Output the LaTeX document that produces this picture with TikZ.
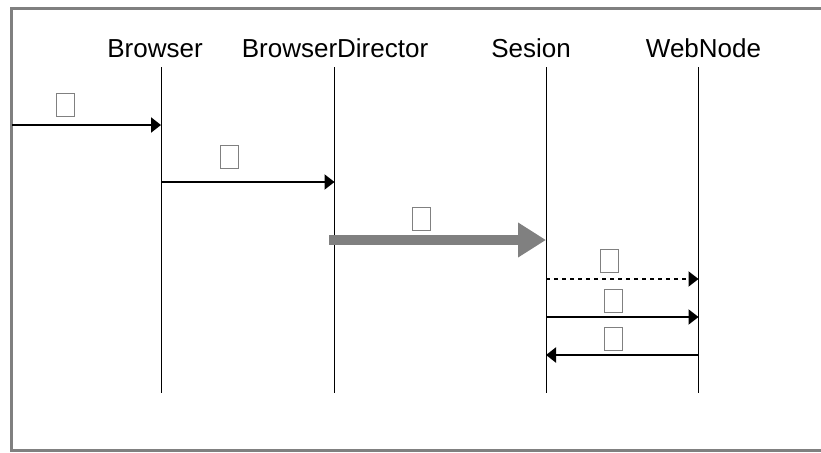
\documentclass[tikz,border=0pt]{standalone}
\usepackage{fontspec}
\setmainfont{Liberation Sans}
\usetikzlibrary{arrows.meta}

\tikzset{
    lifeline/.style={line width=1pt},
    msg/.style={line width=2pt,-{Triangle[length=10pt,width=15pt]}},
    tofu/.style={draw=gray,line width=1pt,minimum width=18pt,minimum height=23pt,inner sep=0pt},
    objname/.style={anchor=base,font=\fontsize{26}{30}\selectfont},
}

\begin{document}
\begin{tikzpicture}[x=1pt,y=-1pt]
    \useasboundingbox (0,0) rectangle (821,452);
    % frame
    \draw[gray,line width=3pt] (11.5,8.5) rectangle (826,450.5);

    % objects
    \node[objname] (Browser) at (155,57) {Browser};
    \node[objname] (Director) at (335,57) {BrowserDirector};
    \node[objname] (Sesion) at (531,57) {Sesion};
    \node[objname] (WebNode) at (703.5,57) {WebNode};

    % lifelines
    \coordinate (BrowserTop) at (161,67);
    \coordinate (BrowserEnd) at (161,393);
    \coordinate (DirectorTop) at (334.5,67);
    \coordinate (DirectorEnd) at (334.5,393);
    \coordinate (SesionTop) at (546,67);
    \coordinate (SesionEnd) at (546,393);
    \coordinate (WebNodeTop) at (698.5,67);
    \coordinate (WebNodeEnd) at (698.5,393);
    \draw[lifeline] (BrowserTop) -- (BrowserEnd);
    \draw[lifeline] (DirectorTop) -- (DirectorEnd);
    \draw[lifeline] (SesionTop) -- (SesionEnd);
    \draw[lifeline] (WebNodeTop) -- (WebNodeEnd);

    % message ends
    \coordinate (Start) at (12,125);
    \coordinate (B1) at (161,125);
    \coordinate (B2) at (161,182);
    \coordinate (D2) at (334.5,182);
    \coordinate (D3) at (329,240);
    \coordinate (S3) at (546,240);
    \coordinate (S4) at (546,279);
    \coordinate (W4) at (698.5,279);
    \coordinate (S5) at (546,317);
    \coordinate (W5) at (698.5,317);
    \coordinate (W6) at (698.5,355);
    \coordinate (S6) at (546,355);

    % messages
    \draw[msg] (Start) -- (B1);
    \draw[msg] (B2) -- (D2);
    \draw[gray,line width=10pt,-{Triangle[length=28pt,width=33pt]}] (D3) -- (S3);
    \draw[msg,dash pattern=on 4pt off 4pt] (S4) -- (W4);
    \draw[msg] (S5) -- (W5);
    \draw[msg] (W6) -- (S6);

    % message labels
    \node[tofu] (L1) at (65.5,105) {};
    \node[tofu] (L2) at (229,157) {};
    \node[tofu] (L3) at (421.5,219) {};
    \node[tofu] (L4) at (609.5,260.5) {};
    \node[tofu] (L5) at (613.5,300.5) {};
    \node[tofu] (L6) at (613.5,338.5) {};
\end{tikzpicture}
\end{document}
